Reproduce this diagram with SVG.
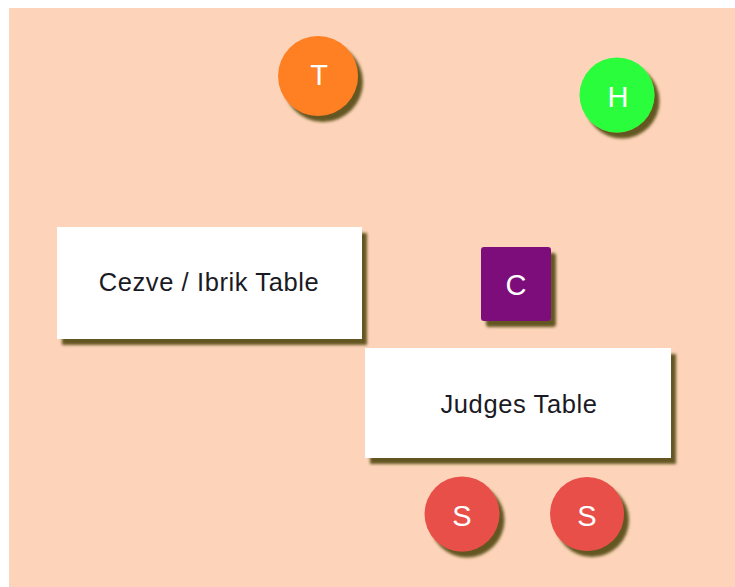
<svg xmlns="http://www.w3.org/2000/svg" width="735" height="587" viewBox="0 0 735 587">
<defs>
<filter id="sh" x="-20%" y="-20%" width="150%" height="150%">
<feDropShadow dx="5" dy="6" stdDeviation="1.8" flood-color="#635722" flood-opacity="1"/>
</filter>
<style>
.lbl{font-family:"Liberation Sans",Arial,sans-serif;fill:#ffffff;font-size:29px;text-anchor:middle;dominant-baseline:central}
.tbl{font-family:"Liberation Sans",Arial,sans-serif;fill:#1a1a24;font-size:25.5px;letter-spacing:0.6px;text-anchor:middle;dominant-baseline:central}
.table{fill:#ffffff;filter:url(#sh)}
.node{filter:url(#sh)}
</style>
</defs>
<rect x="0" y="0" width="735" height="587" fill="#ffffff"/>
<rect x="9" y="8" width="726" height="579" fill="#fdd4b9"/>
<g id="connectors"></g>
<g id="node-T">
<circle class="node" cx="318" cy="76" r="40" fill="#fe8024"/>
<text class="lbl" x="319" y="75">T</text>
</g>
<g id="node-H">
<circle class="node" cx="617" cy="95" r="37.5" fill="#2cfd3b"/>
<text class="lbl" x="618" y="97">H</text>
</g>
<g id="node-cezve">
<rect class="table" x="57" y="227" width="305" height="112"/>
<text class="tbl" x="209" y="282">Cezve / Ibrik Table</text>
</g>
<g id="node-C">
<rect class="node" x="481" y="247" width="70" height="74" rx="3" fill="#7b0f7a"/>
<text class="lbl" x="516" y="285">C</text>
</g>
<g id="node-judges">
<rect class="table" x="365" y="348" width="306" height="110"/>
<text class="tbl" x="519" y="404">Judges Table</text>
</g>
<g id="node-S1">
<circle class="node" cx="462" cy="514" r="37.5" fill="#e84f4a"/>
<text class="lbl" x="462" y="516">S</text>
</g>
<g id="node-S2">
<circle class="node" cx="587" cy="514" r="37" fill="#e84f4a"/>
<text class="lbl" x="587" y="516">S</text>
</g>
</svg>
